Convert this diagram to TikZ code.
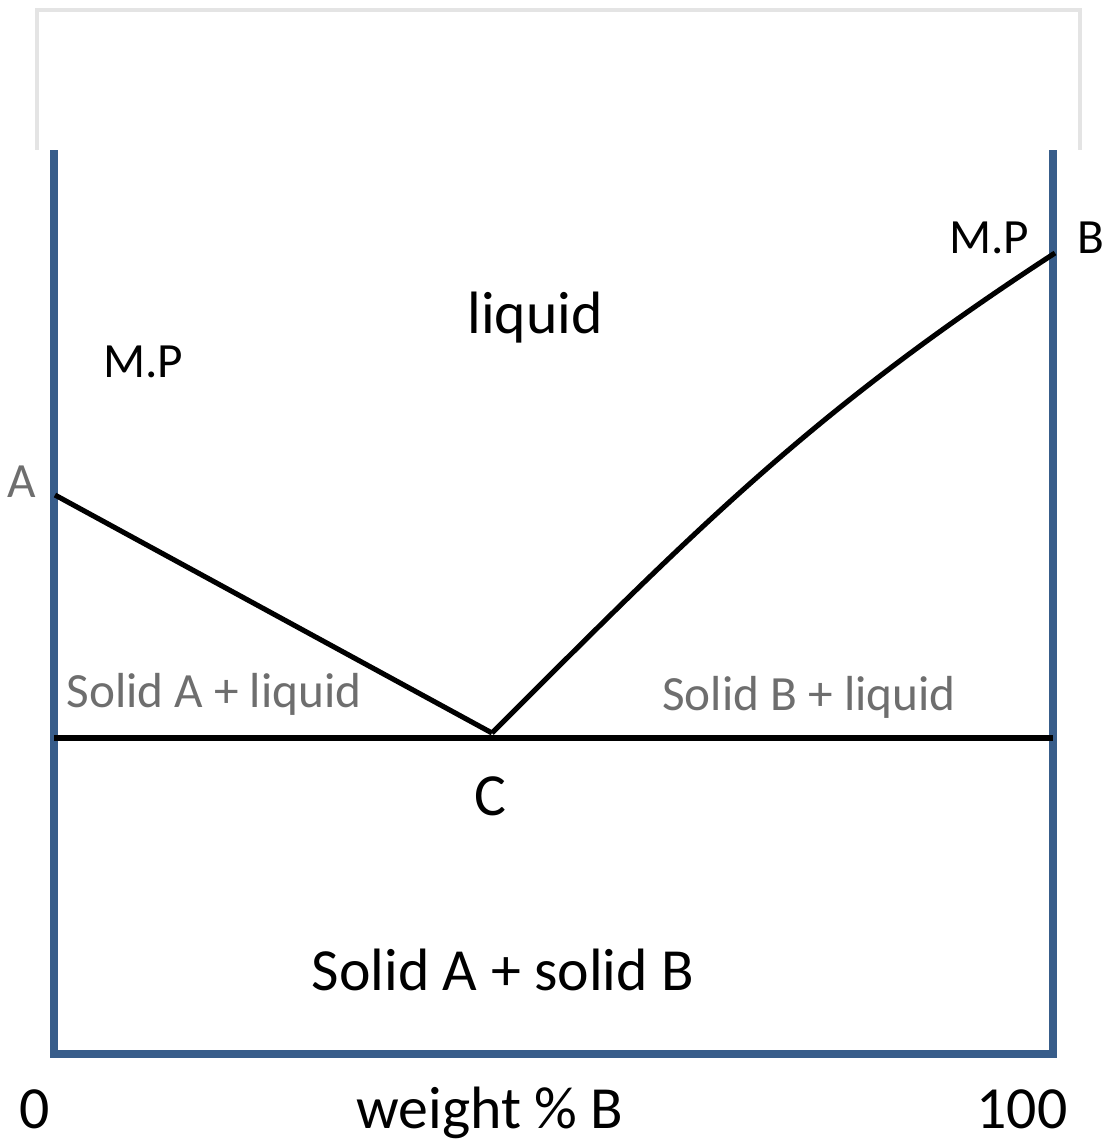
\documentclass[tikz,border=0pt]{standalone}
\usepackage{fontspec}
\setmainfont{Carlito}
\definecolor{frameblue}{RGB}{56,93,138}
\definecolor{boxgray}{RGB}{228,228,228}
\definecolor{lblgray}{RGB}{110,110,110}
\usetikzlibrary{positioning}

\begin{document}
\begin{tikzpicture}[x=0.01cm, y=-0.01cm,
  lbig/.style={font=\fontsize{17}{20}\selectfont, anchor=base, inner sep=0pt},
  lsml/.style={font=\fontsize{14}{17}\selectfont, anchor=base, inner sep=0pt},
  lphase/.style={font=\fontsize{14}{17}\selectfont, anchor=base, inner sep=0pt, text=lblgray},
  curve/.style={line width=1.45pt, black}
]
  \useasboundingbox (0,0) rectangle (1106,1145);

  %% Frames
  \draw[boxgray, line width=1.2pt] (37,150) -- (37,10) -- (1080,10) -- (1080,150);
  \draw[frameblue, line width=2pt] (54,150) -- (54,1054) -- (1053,1054) -- (1053,150);

  %% Key points
  \coordinate (A) at (55,495);
  \coordinate (C) at (492,733);
  \coordinate (B) at (1055,253);
  \coordinate (eL) at (54,738);
  \coordinate (eR) at (1053,738);

  %% Liquidus and eutectic line
  \draw[curve] (eL) -- (eR);
  \draw[curve] (A) -- (C);
  \draw[curve] (C) .. controls (697,528) and (812,411) .. (B);

  %% Labels
  \node[lsml] (mpA) at (143,377) {M.P};
  \node[lsml, text=lblgray] (lA) at (22,497) {A};
  \node[lsml] (mpB) at (989,253) {M.P};
  \node[lsml] (lB) at (1091,253) {B};
  \node[lbig] (liq) at (535,333) {liquid};
  \node[lphase] (sAl) at (214,707) {Solid A + liquid};
  \node[lphase] (sBl) at (809,710) {Solid B + liquid};
  \node[lbig] (lC) at (490,815) {C};
  \node[lbig] (sAB) at (503,990) {Solid A + solid B};

  %% Axis
  \node[lbig] (x0) at (35,1128) {0};
  \node[lbig] (xlab) at (490,1128) {weight \% B};
  \node[lbig] (x100) at (1022,1128) {100};
\end{tikzpicture}
\end{document}
